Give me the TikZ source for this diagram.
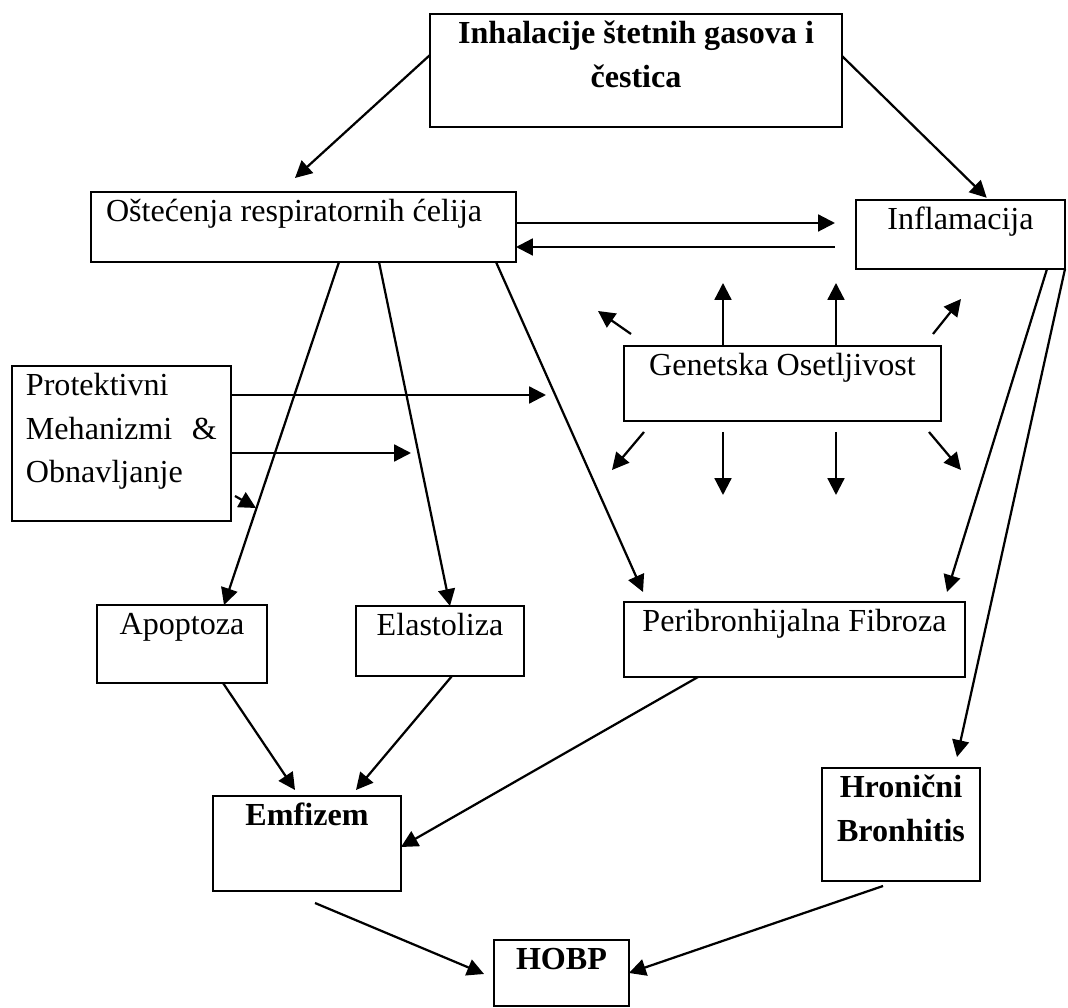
\documentclass[tikz,border=0pt]{standalone}
\usepackage{fontspec}
\setmainfont{Liberation Serif}
\usetikzlibrary{arrows.meta}

\tikzstyle{tbox}=[draw, line width=0.9pt, inner sep=0pt, outer sep=0pt]
\tikzstyle{link}=[->, line width=0.85pt]

% box text: width, height, text set from the top
\newcommand{\txtbox}[4][\centering]{\parbox[c][#3][t]{#2}{#1\rule{0pt}{11.4pt}#4}}

\begin{document}
\begin{tikzpicture}[x=0.38pt, y=-0.38pt, >={Triangle[length=6.4pt,width=6.4pt]},
  every node/.style={font=\fontsize{12.2pt}{16.5pt}\selectfont}]
  \useasboundingbox (0,0) rectangle (1068,1008);

  %% Boxes
  \draw (636,70.5) node[tbox] (inhal) {\txtbox{156.56pt}{42.94pt}{\bfseries Inhalacije štetnih gasova i\\čestica}};
  \draw (303.5,227) node[tbox] (ost) {\txtbox[\raggedright\leftskip=5.7pt]{161.5pt}{26.6pt}{Oštećenja respiratornih ćelija}};
  \draw (960.5,234.5) node[tbox] (infl) {\txtbox{79.4pt}{26.22pt}{Inflamacija}};
  \draw (782.5,383.5) node[tbox] (gen) {\txtbox{120.46pt}{28.5pt}{Genetska Osetljivost}};
  \draw (121.5,443.5) node[tbox] (prot) {\txtbox[\raggedright\leftskip=5.3pt]{83.22pt}{58.9pt}{Protektivni\\Mehanizmi\hspace{7.5pt}\&\\Obnavljanje}};
  \draw (182,644) node[tbox] (apop) {\txtbox{64.6pt}{29.64pt}{Apoptoza}};
  \draw (440,641) node[tbox] (elast) {\txtbox{63.84pt}{26.6pt}{Elastoliza}};
  \draw (794.5,639.5) node[tbox] (peri) {\txtbox{129.58pt}{28.5pt}{Peribronhijalna Fibroza}};
  \draw (307,843.5) node[tbox] (emf) {\txtbox{71.44pt}{36.1pt}{\bfseries Emfizem}};
  \draw (901,824.5) node[tbox] (hron) {\txtbox{60.04pt}{42.94pt}{\bfseries Hronični\\Bronhitis}};
  \draw (561.5,973) node[tbox] (hobp) {\txtbox{51.3pt}{25.08pt}{\bfseries HOBP}};

  %% Free ends
  \coordinate (ostIn) at (295,178);
  \coordinate (perIn1) at (643,592);
  \coordinate (perIn2) at (947,592);
  \coordinate (hronIn) at (957,757);
  \coordinate (emfIn1) at (295,790);
  \coordinate (emfIn2) at (356,790);
  \coordinate (emfOut) at (315,903);
  \coordinate (hronOut) at (883,886);
  \coordinate (hobpIn) at (484,974);

  %% Inhalation
  \draw[link] (inhal.west |- 0,55) -- (ostIn);
  \draw[link, shorten >=1.2pt] (inhal.east |- 0,56) -- (infl.north -| 989,0);
  \draw[link, shorten >=8pt] (ost.east |- 0,223) -- (infl.west |- 0,223);
  \draw[link, shorten <=8pt] (infl.west |- 0,247) -- (ost.east |- 0,247);

  %% Damage
  \draw[link] (ost.south -| 339,0) -- (apop.north -| 224,0);
  \draw[link] (ost.south -| 379,0) -- (elast.north -| 450,0);
  \draw[link] (ost.south -| 496,0) -- (perIn1);
  \draw[link] (infl.south -| 1047,0) -- (perIn2);
  \draw[link] (infl.south -| 1065,0) -- (hronIn);

  %% Protective
  \coordinate (protT1) at (546,395);
  \coordinate (protT2) at (411,453);
  \coordinate (protT3) at (256,508);
  \draw[link] (prot.east |- 0,395) -- (protT1);
  \draw[link] (prot.east |- 0,453) -- (protT2);
  \draw[link] (235,496) -- (protT3);

  %% Genetic
  \draw[link] (gen.north -| 723,0) -- (723,283);
  \draw[link] (gen.north -| 836,0) -- (836,283);
  \draw[link] (631,334) -- (598,311);
  \draw[link] (933,334) -- (961,299);
  \draw[link] (644,432) -- (612,470);
  \draw[link] (723,432) -- (723,495);
  \draw[link] (836,432) -- (836,495);
  \draw[link] (929,432) -- (961,470);

  %% Outcome
  \draw[link] (apop.south -| 223,0) -- (emfIn1);
  \draw[link] (elast.south -| 452,0) -- (emfIn2);
  \draw[link] (peri.south -| 698,0) -- (emf.east |- 0,847);
  \draw[link] (emfOut) -- (hobpIn);
  \draw[link] (hronOut) -- (hobp.east |- 0,973);
\end{tikzpicture}
\end{document}
